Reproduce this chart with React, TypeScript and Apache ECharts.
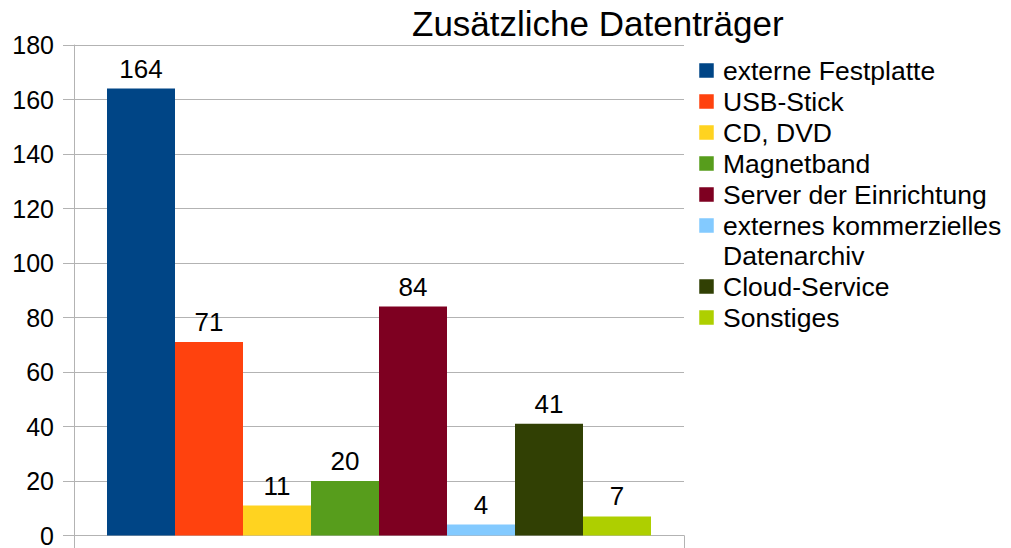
import React, { useEffect, useRef } from "react";
import * as echarts from "echarts";

const title = "Zusätzliche Datenträger";
const seriesNames = [
  "externe Festplatte",
  "USB-Stick",
  "CD, DVD",
  "Magnetband",
  "Server der Einrichtung",
  "externes kommerzielles\nDatenarchiv",
  "Cloud-Service",
  "Sonstiges",
];
const seriesValues = [164, 71, 11, 20, 84, 4, 41, 7];
const colors = ["#004586", "#ff420e", "#ffd320", "#579d1c", "#7e0021", "#83caff", "#314004", "#aecf00"];
const categories = [""];

const FONT = "'Liberation Sans', Arial, sans-serif";

export default function App() {
  const ref = useRef<HTMLDivElement>(null);
  useEffect(() => {
    document.body.style.margin = "0";
    if (!ref.current) return;
    const chart = echarts.init(ref.current, undefined, { renderer: "svg" });
    const legendGraphics: any[] = [];
    let y = 71;
    seriesNames.forEach((name, i) => {
      const lines = name.split("\n").length;
      legendGraphics.push({
        type: "rect",
        shape: { x: 699, y: y - 8, width: 15, height: 15 },
        style: { fill: colors[i], stroke: "#ffffff", lineWidth: 0.5 },
      });
      legendGraphics.push({
        type: "text",
        x: 723,
        y: y - 15,
        style: { text: name, fontSize: 26.5, fontFamily: FONT, fill: "#000000", lineHeight: 30, verticalAlign: "top" },
      });
      y += 31 + (lines - 1) * 30;
    });
    chart.setOption({
      animation: false,
      backgroundColor: "#ffffff",
      title: {
        text: title,
        left: 407,
        top: 1,
        textStyle: { fontSize: 35, fontWeight: "normal", fontFamily: FONT, color: "#000000" },
      },
      grid: { left: 74, right: 327, top: 45, bottom: 12, containLabel: false },
      xAxis: {
        type: "category",
        data: categories,
        axisLine: { show: true, lineStyle: { color: "#b3b3b3", width: 1 } },
        axisTick: { show: true, length: 14, alignWithLabel: false, lineStyle: { color: "#b3b3b3" } },
        axisLabel: { show: false },
        splitLine: { show: false },
      },
      yAxis: {
        type: "value",
        min: 0,
        max: 180,
        interval: 20,
        axisLine: { show: true, lineStyle: { color: "#b3b3b3", width: 1 } },
        axisTick: { show: true, length: 11, lineStyle: { color: "#b3b3b3" } },
        axisLabel: { fontSize: 25, fontFamily: FONT, color: "#000000", margin: 20 },
        splitLine: { show: true, lineStyle: { color: "#b3b3b3", width: 1 } },
      },
      series: seriesNames.map((name, i) => ({
        type: "bar",
        name,
        data: [seriesValues[i]],
        barWidth: 68,
        barGap: "0%",
        itemStyle: { color: colors[i] },
        label: {
          show: true,
          position: "top",
          distance: 7,
          fontSize: 26,
          fontFamily: FONT,
          color: "#000000",
        },
      })),
      graphic: legendGraphics,
    });
    return () => chart.dispose();
  }, []);
  return <div ref={ref} style={{ width: 1011, height: 548 }} />;
}
